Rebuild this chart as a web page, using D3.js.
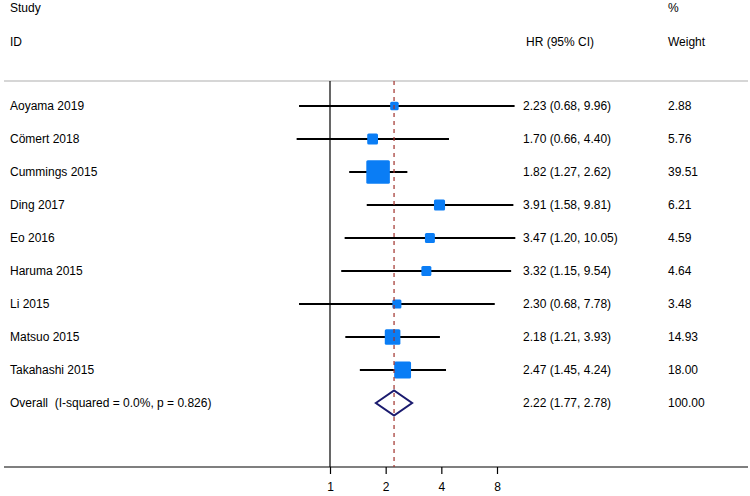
<!DOCTYPE html>
<html>
<head>
<meta charset="utf-8">
<script src="https://cdn.jsdelivr.net/npm/d3@7"></script>
<style>
  html, body { margin: 0; padding: 0; background: #fff; }
  svg text { font-family: "Liberation Sans", Arial, sans-serif; font-size: 12px; fill: #000; white-space: pre; }
</style>
</head>
<body>
<div id="chart"></div>
<script>
// 연구별 HR 데이터
const studies = ["Aoyama 2019", "Cömert 2018", "Cummings 2015", "Ding 2017", "Eo 2016",
                 "Haruma 2015", "Li 2015", "Matsuo 2015", "Takahashi 2015"];
const hr    = [2.23, 1.70, 1.82, 3.91, 3.47, 3.32, 2.30, 2.18, 2.47];
const lower = [0.68, 0.66, 1.27, 1.58, 1.20, 1.15, 0.68, 1.21, 1.45];
const upper = [9.96, 4.40, 2.62, 9.81, 10.05, 9.54, 7.78, 3.93, 4.24];
const weight = [2.88, 5.76, 39.51, 6.21, 4.59, 4.64, 3.48, 14.93, 18.00];
const overallLabel = "Overall  (I-squared = 0.0%, p = 0.826)";
const overall = { hr: 2.22, lo: 1.77, hi: 2.78, w: 100.00 };
const xTicks = [1, 2, 4, 8];

(() => {
  const W = 750, H = 496;
  const yTop = 81, yBottom = 467;
  const row0 = 106, rowStep = 33;

  const svg = d3.select("#chart").append("svg")
    .attr("width", W).attr("height", H);

  const x = d3.scaleLog().base(2).domain([1, 8]).range([330, 497]);
  const y = i => row0 + i * rowStep;
  const fmt = d3.format(".2f");
  // 가중치 → 박스 한 변 (면적 비례 + 최소 크기)
  const boxSide = d3.scaleSqrt().domain([0, 40]).range([1.5, 22.3]);

  // 헤더
  svg.append("text").attr("x", 10).attr("y", 12).text("Study");
  svg.append("text").attr("x", 10).attr("y", 46).text("ID");
  svg.append("text").attr("x", 526).attr("y", 46).text("HR (95% CI)");
  svg.append("text").attr("x", 668).attr("y", 12).text("%");
  svg.append("text").attr("x", 668).attr("y", 46).text("Weight");

  // 위 구분선
  svg.append("line").attr("x1", 4).attr("x2", 748).attr("y1", yTop).attr("y2", yTop)
    .attr("stroke", "#c8c8c8").attr("stroke-width", 1.5);

  // 기준선 (HR = 1)
  svg.append("line").attr("x1", x(1)).attr("x2", x(1)).attr("y1", yTop).attr("y2", yBottom)
    .attr("stroke", "#000").attr("stroke-width", 1.2);

  // 축
  svg.append("line").attr("x1", 4).attr("x2", 748).attr("y1", yBottom).attr("y2", yBottom)
    .attr("stroke", "#000").attr("stroke-width", 1.2);
  const axis = svg.append("g").attr("transform", `translate(0,${yBottom})`)
    .call(d3.axisBottom(x).tickValues(xTicks).tickSize(7).tickPadding(8).tickFormat(d3.format("d")));
  axis.select(".domain").remove();
  axis.selectAll(".tick line").attr("stroke", "#000").attr("stroke-width", 1.2);
  axis.selectAll(".tick text").style("font-size", "12px").style("font-family", "Liberation Sans, Arial, sans-serif");

  // 연구별 CI 선 + 박스
  studies.forEach((s, i) => {
    const yy = y(i);
    svg.append("line").attr("x1", x(lower[i])).attr("x2", x(upper[i]))
      .attr("y1", yy).attr("y2", yy).attr("stroke", "#000").attr("stroke-width", 2);
    const side = boxSide(weight[i]) + 1.4;
    svg.append("rect")
      .attr("x", x(hr[i]) - side / 2).attr("y", yy - side / 2)
      .attr("width", side).attr("height", side).attr("rx", 1.5)
      .attr("fill", "#0a7df5");
    svg.append("text").attr("x", 10).attr("y", yy).attr("dy", "0.35em").text(s);
    svg.append("text").attr("x", 523).attr("y", yy).attr("dy", "0.35em")
      .text(`${fmt(hr[i])} (${fmt(lower[i])}, ${fmt(upper[i])})`);
    svg.append("text").attr("x", 668).attr("y", yy).attr("dy", "0.35em").text(fmt(weight[i]));
  });

  // 전체 효과 선 (점선)
  svg.append("line").attr("x1", x(overall.hr)).attr("x2", x(overall.hr))
    .attr("y1", yTop).attr("y2", yBottom)
    .attr("stroke", "#a0302a").attr("stroke-width", 1.2).attr("stroke-dasharray", "4,4");

  // 다이아몬드
  const yo = y(studies.length);
  const dh = 12.5;
  svg.append("path")
    .attr("d", `M${x(overall.lo)},${yo} L${x(overall.hr)},${yo - dh} L${x(overall.hi)},${yo} L${x(overall.hr)},${yo + dh} Z`)
    .attr("fill", "none").attr("stroke", "#1a1a6e").attr("stroke-width", 2);
  svg.append("text").attr("x", 10).attr("y", yo).attr("dy", "0.35em").text(overallLabel);
  svg.append("text").attr("x", 523).attr("y", yo).attr("dy", "0.35em")
    .text(`${fmt(overall.hr)} (${fmt(overall.lo)}, ${fmt(overall.hi)})`);
  svg.append("text").attr("x", 668).attr("y", yo).attr("dy", "0.35em").text(fmt(overall.w));
})();
</script>
</body>
</html>
